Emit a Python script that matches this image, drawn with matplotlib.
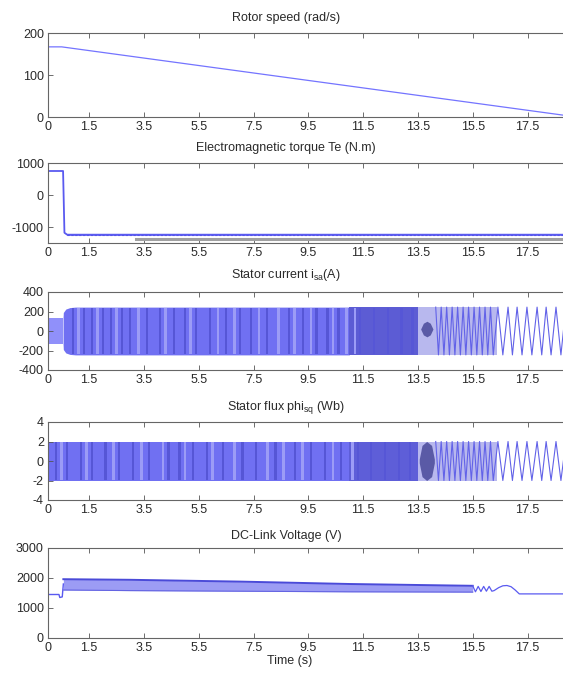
import numpy as np
import matplotlib
matplotlib.use('Agg')
import matplotlib.pyplot as plt

plt.rcParams['font.family'] = ['Liberation Sans', 'DejaVu Sans']
plt.rcParams['mathtext.fontset'] = 'custom'
plt.rcParams['mathtext.rm'] = 'Liberation Sans'
plt.rcParams['mathtext.it'] = 'Liberation Sans'
plt.rcParams['axes.unicode_minus'] = False

# ---- data ----
xtick_vals = [0, 1.5, 3.5, 5.5, 7.5, 9.5, 11.5, 13.5, 15.5, 17.5]

speed_t = [0, 0.5, 19.3, 20]
speed_v = [167, 167, 0, 0]

torque_t = [0, 0.55, 0.6, 0.7, 20]
torque_v = [750, 750, -1180, -1240, -1240]
torque_band_t = [0.7, 20]
torque_band_hi = [-1205, -1205]
torque_band_lo = [-1285, -1285]
torque_ref_t = [3.2, 20]
torque_ref_v = [-1390, -1390]

# stator current envelope (dense oscillation region)
cur_t = [0, 0.55, 0.56, 0.65, 0.8, 1.0, 11.0, 13.5, 16.4]
cur_hi = [135, 135, 190, 225, 240, 245, 245, 245, 245]
cur_lo = [-130, -130, -190, -225, -240, -245, -245, -245, -245]
cur_seg = [(0, 0.55, '#9090fa'), (0.55, 11.0, '#7070f2'),
           (11.0, 13.5, '#5c5cd4'), (13.5, 16.4, '#b8b8ee')]
cur_dark = [0.9, 1.3, 1.6, 2.0, 2.3, 2.7, 3.0, 3.6, 4.1, 4.6, 5.0, 5.4, 5.9,
            6.5, 7.0, 7.4, 8.0, 8.8, 9.3, 9.8, 10.2, 10.6, 11.4, 11.9, 12.4,
            12.9, 13.3]
cur_light = [1.1, 1.8, 2.5, 3.3, 4.3, 5.2, 6.2, 6.8, 7.7, 8.4, 9.0, 9.6,
             10.4, 10.9, 11.2]
cur_blob_t = [13.6, 13.7, 13.83, 13.95, 14.05]
cur_blob_hi = [20, 80, 100, 80, 20]
cur_blob_lo = [20, -40, -60, -40, 20]

flux_t = [0, 11.0, 13.5, 16.4]
flux_hi = [2.0, 2.0, 2.0, 2.0]
flux_lo = [-2.0, -2.0, -2.0, -2.0]
flux_seg = [(0, 11.0, '#7070f2'), (11.0, 13.5, '#5e5ed8'),
            (13.5, 16.4, '#b8b8ee')]
flux_dark = [0.3, 0.7, 1.2, 1.6, 2.1, 2.6, 3.1, 3.7, 4.4, 4.8, 5.3, 5.8,
             6.4, 7.1, 7.6, 8.3, 9.0, 9.6, 10.1, 10.7, 11.3, 11.8, 12.3,
             12.8, 13.2]
flux_light = [0.5, 1.4, 2.4, 3.4, 4.2, 5.0, 6.0, 6.8, 8.0, 8.6, 9.3, 10.4,
              11.1]
flux_blob_t = [13.55, 13.65, 13.82, 14.0, 14.1]
flux_blob_hi = [0.2, 1.6, 2.0, 1.6, 0.2]
flux_blob_lo = [-0.2, -1.6, -2.0, -1.6, -0.2]

# low frequency tail of the phase waveforms (peaks / troughs)
wave_t = [14.15, 14.25, 14.35, 14.45, 14.55, 14.65, 14.75, 14.85, 14.95,
          15.05, 15.15, 15.25, 15.35, 15.45, 15.55, 15.65, 15.75, 15.85,
          15.95, 16.05, 16.15, 16.25, 16.42, 16.6, 16.79, 16.95, 17.12,
          17.3, 17.48, 17.66, 17.85, 18.02, 18.18, 18.36, 18.54, 18.72,
          18.9, 19.08, 19.26, 19.44, 19.62, 19.8, 19.98]
wave_s = [1, -1, 1, -1, 1, -1, 1, -1, 1, -1, 1, -1, 1, -1, 1, -1, 1, -1,
          1, -1, 1, -1, 1, -1, 1, -1, 1, -1, 1, -1, 1, -1, 1, -1, 1, -1,
          1, -1, 1, -1, 1, -1, 1]
cur_amp = 245
flux_amp = 2.0

dc_t = [0, 0.4, 0.43, 0.52, 0.56]
dc_v = [1450, 1450, 1350, 1370, 1800]
dc_band_t = [0.56, 3, 7, 11, 15.5]
dc_band_hi = [1960, 1940, 1880, 1800, 1740]
dc_band_lo = [1600, 1580, 1560, 1540, 1530]
dc_tail_t = [15.5, 15.6, 15.7, 15.8, 15.9, 16.0, 16.1, 16.2, 16.28, 16.45,
             16.6, 16.75, 16.9, 17.05, 17.2, 20]
dc_tail_v = [1740, 1540, 1720, 1550, 1720, 1560, 1720, 1560, 1580, 1680,
             1740, 1750, 1710, 1600, 1470, 1470]

titles = ['Rotor speed (rad/s)', 'Electromagnetic torque Te (N.m)',
          r'Stator current i$_{\mathrm{sa}}$(A)',
          r'Stator flux phi$_{\mathrm{sq}}$ (Wb)', 'DC-Link Voltage (V)']
yticks = [[0, 100, 200], [-1000, 0, 1000], [-400, -200, 0, 200, 400],
          [-4, -2, 0, 2, 4], [0, 1000, 2000, 3000]]
ylims = [(0, 200), (-1500, 1000), (-400, 400), (-4, 4), (0, 3000)]

# ---- layout (pixels) ----
W, H = 563, 675
fig = plt.figure(figsize=(W / 100, H / 100), dpi=100)
boxes = [(33, 117), (163, 243), (292, 370), (422, 500), (548, 638)]
title_y = [18, 148, 275, 408, 536]
left = 48
width = 548
text_c = '#2a2a2a'
blue = '#5a5af0'

axs = []
for (top, bot) in boxes:
    ax = fig.add_axes([left / W, 1 - bot / H, width / W, (bot - top) / H])
    axs.append(ax)

for i, ax in enumerate(axs):
    ax.set_xlim(0, 20)
    ax.set_ylim(*ylims[i])
    ax.set_yticks(yticks[i])
    ax.set_xticks(xtick_vals)
    ax.set_xticklabels(['%g' % v for v in xtick_vals])
    ax.tick_params(direction='in', length=3.5, width=0.6, top=True,
                   labelsize=9, pad=3, colors='#555555', labelcolor=text_c)
    for s in ax.spines.values():
        s.set_linewidth(0.8)
        s.set_color('#666666')
    fig.text(286 / W, 1 - title_y[i] / H, titles[i], ha='center', va='center',
             fontsize=9, color=text_c)

fig.text(290 / W, 1 - 661 / H, 'Time (s)', ha='center', va='center',
         fontsize=9, color=text_c)

# rotor speed
axs[0].plot(speed_t, speed_v, color='#7474ff', lw=0.9)

# torque
ax = axs[1]
ax.plot(torque_ref_t, torque_ref_v, color='#a0a0a0', lw=2.2)
ax.fill_between(torque_band_t, torque_band_lo, torque_band_hi,
                color='#9090f6', lw=0)
ax.plot(torque_band_t, [-1250, -1250], color='#4c4ce0', lw=0.8,
        dashes=(2, 1.5))
ax.plot(torque_t, torque_v, color=blue, lw=1.3)

# stator current
ax = axs[2]
ct = np.array(cur_t)
for a, b, c in cur_seg:
    ax.fill_between(ct, cur_lo, cur_hi, where=(ct >= a) & (ct <= b),
                    color=c, lw=0)
ax.bar(cur_dark, 480, bottom=-240, width=0.08, color='#5656d6', lw=0)
ax.bar(cur_light, 480, bottom=-240, width=0.1, color='#9c9cf6', lw=0)
ax.fill_between(cur_blob_t, cur_blob_lo, cur_blob_hi, color='#5a5aa6', lw=0)
ax.plot(wave_t, np.array(wave_s) * cur_amp, color='#6262e8', lw=0.8)

# stator flux
ax = axs[3]
ft = np.array(flux_t)
for a, b, c in flux_seg:
    ax.fill_between(ft, flux_lo, flux_hi, where=(ft >= a) & (ft <= b),
                    color=c, lw=0)
ax.bar(flux_dark, 3.9, bottom=-1.95, width=0.08, color='#5656d6', lw=0)
ax.bar(flux_light, 3.9, bottom=-1.95, width=0.1, color='#9c9cf6', lw=0)
ax.fill_between(flux_blob_t, flux_blob_lo, flux_blob_hi, color='#5a5aa6',
                lw=0)
ax.plot(wave_t, np.array(wave_s) * flux_amp, color='#6262e8', lw=0.8)

# dc link
ax = axs[4]
ax.fill_between(dc_band_t, dc_band_lo, dc_band_hi, color='#9c9cf4', lw=0)
ax.plot(dc_band_t, dc_band_hi, color='#4a4ad8', lw=1.4)
ax.plot(dc_band_t, dc_band_lo, color='#6464e2', lw=0.8)
ax.plot(dc_t, dc_v, color=blue, lw=1)
ax.plot(dc_tail_t, dc_tail_v, color=blue, lw=0.9)

fig.savefig('out.png', dpi=100)
